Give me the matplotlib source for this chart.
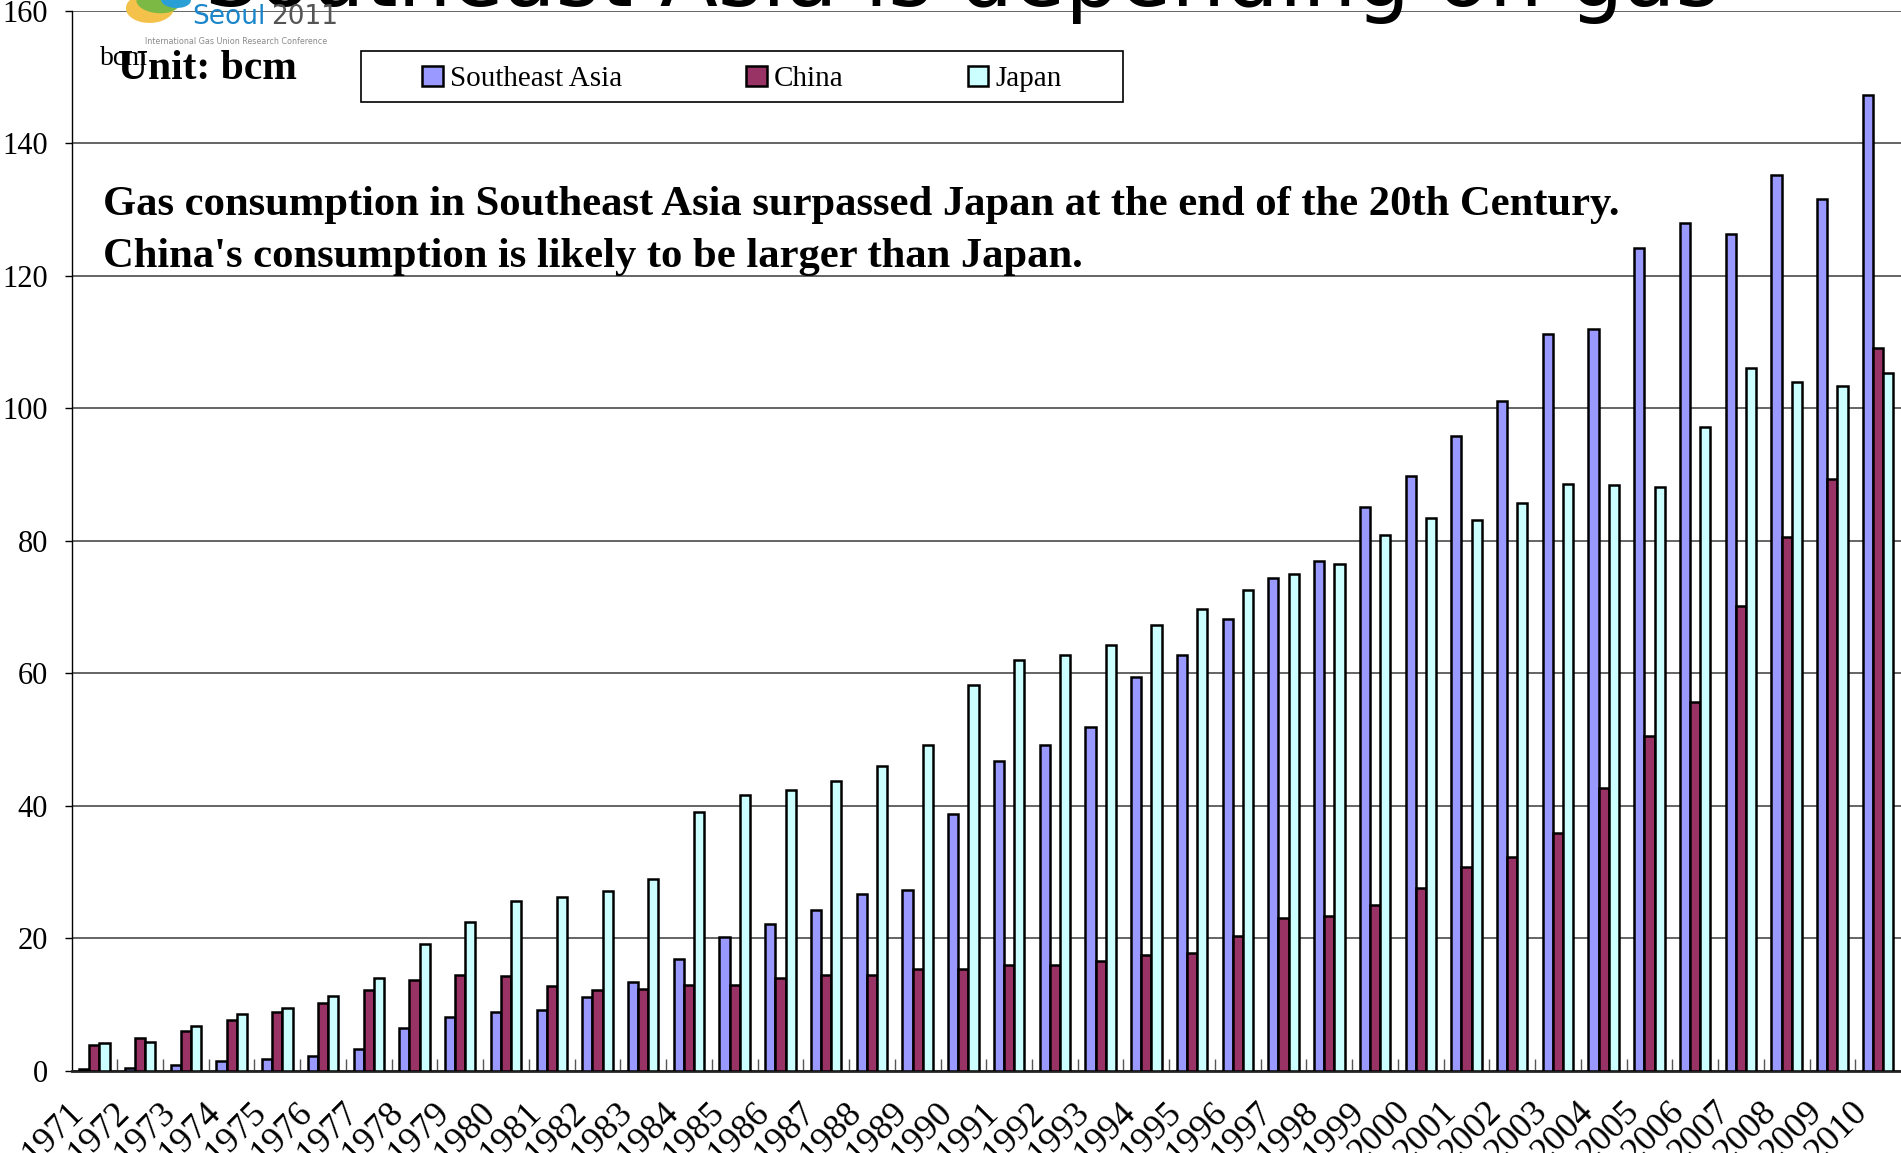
import matplotlib
matplotlib.use('Agg')
import matplotlib.pyplot as plt
import matplotlib.transforms as mtransforms
import numpy as np
from matplotlib.patches import Rectangle, Ellipse

years = ['1971', '1972', '1973', '1974', '1975', '1976', '1977', '1978', '1979', '1980',
         '1981', '1982', '1983', '1984', '1985', '1986', '1987', '1988', '1989', '1990',
         '1991', '1992', '1993', '1994', '1995', '1996', '1997', '1998', '1999', '2000',
         '2001', '2002', '2003', '2004', '2005', '2006', '2007', '2008', '2009', '2010']

southeast_asia = [0.3, 0.4, 0.8, 1.4, 1.8, 2.2, 3.3, 6.4, 8.1, 8.9,
                  9.2, 11.1, 13.3, 16.8, 20.2, 22.1, 24.2, 26.6, 27.2, 38.8,
                  46.7, 49.1, 51.9, 59.4, 62.8, 68.1, 74.4, 76.9, 85.0, 89.7,
                  95.8, 101.0, 111.2, 111.9, 124.1, 128.0, 126.2, 135.2, 131.5, 147.3]

china = [3.8, 4.9, 6.0, 7.6, 8.9, 10.2, 12.1, 13.7, 14.5, 14.3,
         12.7, 12.1, 12.3, 12.9, 12.9, 14.0, 14.5, 14.5, 15.3, 15.4,
         16.0, 15.9, 16.6, 17.4, 17.8, 20.3, 23.1, 23.3, 25.0, 27.6,
         30.7, 32.2, 35.9, 42.6, 50.5, 55.6, 70.1, 80.6, 89.3, 109.0]

japan = [4.2, 4.3, 6.7, 8.6, 9.5, 11.3, 14.0, 19.1, 22.5, 25.6,
         26.2, 27.1, 28.9, 39.0, 41.6, 42.3, 43.7, 46.0, 49.1, 58.2,
         62.0, 62.7, 64.2, 67.2, 69.6, 72.5, 75.0, 76.4, 80.9, 83.4,
         83.1, 85.6, 88.6, 88.4, 88.1, 97.2, 106.1, 103.9, 103.4, 105.3]

series_names = ['Southeast Asia', 'China', 'Japan']
series_colors = ['#9999FF', '#993366', '#CCFFFF']
y_ticks = [0, 20, 40, 60, 80, 100, 120, 140, 160]

W, H = 1901, 1153
SERIF = ['Liberation Serif', 'DejaVu Serif']

fig = plt.figure(figsize=(W / 100, H / 100), dpi=100)
ax_left, ax_bottom_px, ax_top_px = 71.5, 1070.6, 10.5
ax = fig.add_axes([ax_left / W, 1 - ax_bottom_px / H, 1 - ax_left / W,
                   (ax_bottom_px - ax_top_px) / H])

x = np.arange(len(years))
w = 0.222
for i, (vals, name, col) in enumerate(zip([southeast_asia, china, japan], series_names, series_colors)):
    ax.bar(x + (i - 1) * w, vals, w, color=col, edgecolor='black', linewidth=1.8,
           label=name, zorder=3)

ax.set_xlim(-0.5, len(years) - 0.5)
ax.set_ylim(0, 160)
ax.set_yticks(y_ticks)
ax.set_yticklabels([str(t) for t in y_ticks], fontsize=22, family=SERIF)
ax.yaxis.grid(True, color='#3a3a3a', linewidth=1.1)
ax.set_axisbelow(True)
for s in ['top', 'right']:
    ax.spines[s].set_visible(False)
ax.spines['left'].set_linewidth(1.0)
ax.spines['bottom'].set_linewidth(2.0)
ax.spines['bottom'].set_color('#222222')
ax.tick_params(axis='y', length=5, width=1, pad=12)

ax.set_xticks(x)
ax.set_xticklabels(years, rotation=45, ha='right', va='top', rotation_mode='anchor',
                   fontsize=26, family=SERIF)
ax.tick_params(axis='x', which='major', length=0, pad=18)
shift = mtransforms.ScaledTranslation(-0.27, 0, fig.dpi_scale_trans)
for lbl in ax.get_xticklabels():
    lbl.set_transform(lbl.get_transform() + shift)
ax.set_xticks(x[:-1] + 0.5, minor=True)
ax.tick_params(axis='x', which='minor', direction='in', length=9, width=1, color='#555555')

# title (cut off at top of slide)
fig.text(962 / W, 1 - 6 / H, 'Southeast Asia is depending on gas', fontsize=61,
         family=['DejaVu Sans'], ha='center', va='baseline', color='black')

# logo
fig.patches.append(Ellipse((150 / W, 1 - 8 / H), 48 / W, 30 / H, angle=-20,
                           transform=fig.transFigure, facecolor='#f4c24a', edgecolor='none', zorder=5))
fig.patches.append(Ellipse((158 / W, 1 - 2 / H), 44 / W, 22 / H, angle=-20,
                           transform=fig.transFigure, facecolor='#7cb944', edgecolor='none', zorder=6))
fig.patches.append(Ellipse((176 / W, 1 - 0 / H), 30 / W, 16 / H, angle=-10,
                           transform=fig.transFigure, facecolor='#2a9fd6', edgecolor='none', zorder=7))
fig.text(192 / W, 1 - 24 / H, 'Seoul', fontsize=19, color='#1b86c9', family=['DejaVu Sans'],
         ha='left', va='baseline', zorder=8)
fig.text(271 / W, 1 - 24 / H, '2011', fontsize=19, color='#555555', family=['DejaVu Sans'],
         ha='left', va='baseline', zorder=8)
fig.text(236 / W, 1 - 41 / H, 'International Gas Union Research Conference', fontsize=6.4,
         color='#8a8a8a', family=['DejaVu Sans'], fontstretch='condensed', ha='center',
         va='center', zorder=8)

# unit labels
fig.text(100 / W, 1 - 65 / H, 'bcm', fontsize=20, family=SERIF, ha='left', va='baseline')
fig.text(118 / W, 1 - 79 / H, 'Unit: bcm', fontsize=30, fontweight='bold', family=SERIF,
         ha='left', va='baseline')

# legend with manual frame
fig.patches.append(Rectangle((361 / W, 1 - 102 / H), (1123 - 361) / W, 51 / H,
                             transform=fig.transFigure, facecolor='white', edgecolor='black',
                             linewidth=1.2, zorder=4))
handles, labels = ax.get_legend_handles_labels()
leg = fig.legend(handles, labels, loc='center', bbox_to_anchor=((361 + 1123) / 2 / W, 1 - 79 / H),
                 ncol=3, frameon=False, prop={'family': SERIF, 'size': 21},
                 handlelength=0.7, handleheight=0.7, handletextpad=0.25, columnspacing=4.25,
                 borderpad=0.2)
leg.set_zorder(6)

# annotation
ax.text(103 / W, 1 - 215 / H, "Gas consumption in Southeast Asia surpassed Japan at the end of the 20th Century.",
        transform=fig.transFigure, fontsize=30.7, fontweight='bold', family=SERIF, ha='left',
        va='baseline', zorder=6)
ax.text(103 / W, 1 - 267 / H, "China's consumption is likely to be larger than Japan.",
        transform=fig.transFigure, fontsize=30.7, fontweight='bold', family=SERIF, ha='left',
        va='baseline', zorder=6)

fig.savefig('out.png', dpi=100)
